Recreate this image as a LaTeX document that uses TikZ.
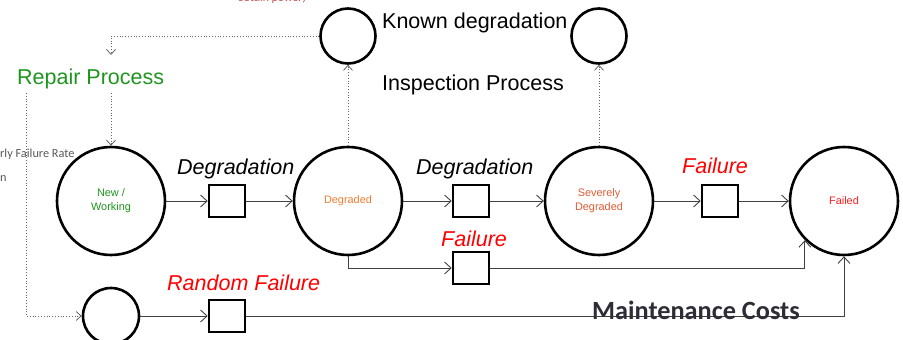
\documentclass[tikz,border=0pt]{standalone}
\usepackage{fontspec}
\setmainfont{Liberation Sans}
\newfontfamily\calibri{Carlito}
\usetikzlibrary{arrows.meta}
\definecolor{rpgreen}{RGB}{30,150,30}
\definecolor{degorange}{RGB}{237,125,49}
\definecolor{sevorange}{RGB}{222,92,52}
\definecolor{failred}{RGB}{255,30,30}
\definecolor{mcost}{RGB}{45,45,55}
\begin{document}
\begin{tikzpicture}[x=1pt,y=-1pt,
  statec/.style={circle,draw=black,line width=2.6pt,minimum size=108pt,inner sep=0pt,align=center,font=\fontsize{10.9}{14}\selectfont},
  smallc/.style={circle,draw=black,line width=2.6pt,minimum size=55pt,inner sep=0pt},
  trans/.style={rectangle,draw=black,line width=2.6pt,minimum width=36pt,minimum height=32pt,inner sep=0pt},
  arr/.style={draw=black!75,line width=0.9pt,-{Straight Barb[length=6.5pt,width=12pt]}},
  dotarr/.style={draw=black!60,dotted,line width=0.8pt,-{Straight Barb[length=5pt,width=9pt]}},
  biglbl/.style={anchor=base west,inner sep=0pt,font=\fontsize{21.5}{24}\selectfont},
  itlbl/.style={biglbl,font=\fontsize{21.5}{24}\selectfont\itshape}]
\useasboundingbox (0,0) rectangle (903,340);
\clip (0,0) rectangle (903,340);

% states
\node[statec,text=rpgreen] (new) at (111,201) {New /\\Working};
\node[statec,text=degorange] (deg) at (348,201) {Degraded};
\node[statec,text=sevorange] (sev) at (599,201) {Severely\\Degraded};
\node[statec,text=failred] (fail) at (844,201) {Failed};
\node[smallc] (known) at (348,36) {};
\node[smallc] (insp) at (599,36) {};
\node[smallc,minimum size=56pt] (rand) at (111,316) {};

% transitions
\node[trans] (t1) at (227,201) {};
\node[trans] (t2) at (471,201) {};
\node[trans] (t3) at (720,201) {};
\node[trans] (t4) at (471,268) {};
\node[trans] (t5) at (227,316) {};

% connectors
\draw[arr] (new) -- (t1);
\draw[arr] (t1) -- (deg);
\draw[arr] (deg) -- (t2);
\draw[arr] (t2) -- (sev);
\draw[arr] (sev) -- (t3);
\draw[arr] (t3) -- (fail);
\draw[arr] (deg.south) |- (t4.west);
\draw[arr] (t4.east) -| (fail.south west);
\draw[arr] (rand) -- (t5);
\draw[arr] (t5.east) -| (fail.south);

% dotted process links
\coordinate (rpin) at (111,55);
\coordinate (rpout) at (111,93);
\coordinate (rpout2) at (26,93);
\draw[dotarr] (deg.north) -- (known.south);
\draw[dotarr] (sev.north) -- (insp.south);
\draw[dotarr] (known.west) -| (rpin);
\draw[dotarr] (rpout) -- (new.north);
\draw[dotarr] (rpout2) |- (rand.west);

% labels
\node[biglbl] (lknown) at (382,28) {Known degradation};
\node[biglbl] (linsp) at (382,90) {Inspection Process};
\node[biglbl,text=rpgreen] (lrep) at (17,84) {Repair Process};
\node[itlbl] (ld1) at (177,174) {Degradation};
\node[itlbl] (ld2) at (416,174) {Degradation};
\node[itlbl,text=red] (lf1) at (682,173) {Failure};
\node[itlbl,text=red] (lf2) at (441,246) {Failure};
\node[itlbl,text=red] (lrf) at (167,290) {Random Failure};
\node[anchor=base west,inner sep=0pt,text=mcost,font=\calibri\bfseries\fontsize{26.3}{28}\selectfont] (lmc) at (592,319) {Maintenance Costs};

% clipped fragments at the edges
\node[anchor=base west,inner sep=0pt,text=black!65,font=\calibri\fontsize{12.3}{14}\selectfont] (fr1) at (0,157) {rly Failure Rate};
\node[anchor=base west,inner sep=0pt,text=black!65,font=\calibri\fontsize{12.3}{14}\selectfont] (fr2) at (0,181) {n};
\node[anchor=base west,inner sep=0pt,text={rgb,255:red,190;green,80;blue,80},font=\calibri\itshape\fontsize{12}{14}\selectfont] (fr3) at (238,1.5) {obtain power)};
\end{tikzpicture}
\end{document}
